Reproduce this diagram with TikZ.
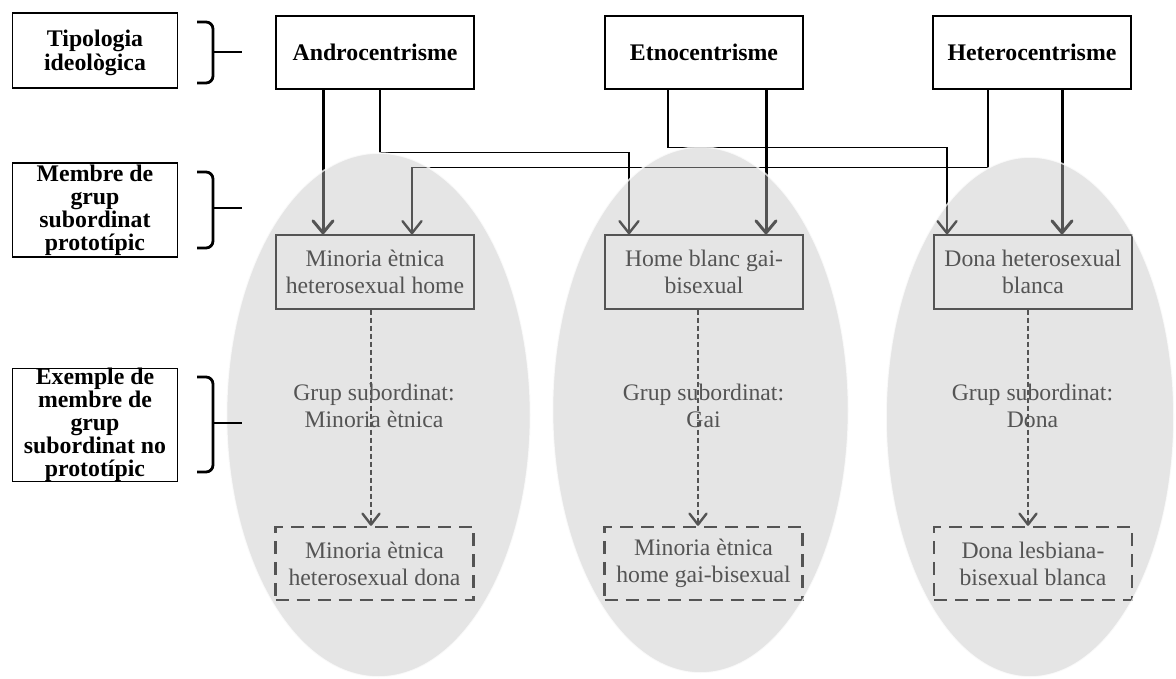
\documentclass[tikz,border=0pt]{standalone}
\usepackage{fontspec}
\setmainfont{Liberation Serif}
\usetikzlibrary{arrows.meta}
\tikzset{
  labelbox/.style={draw=black, line width=1.3pt, minimum width=165pt, inner sep=0pt, align=center,
    font=\fontsize{23.8}{23}\selectfont\bfseries},
  ideobox/.style={draw=black, line width=1.3pt, minimum width=198pt, minimum height=73pt, inner sep=0pt,
    font=\fontsize{23.8}{27}\selectfont\bfseries},
  protobox/.style={draw=black, line width=1.3pt, minimum width=198pt, minimum height=74pt, inner sep=0pt,
    align=center, font=\fontsize{23.7}{27}\selectfont},
  exbox/.style={draw=black, line width=2.4pt, dash pattern=on 13pt off 8pt, minimum width=198pt,
    minimum height=73pt, inner sep=0pt, align=center, font=\fontsize{23.7}{27}\selectfont},
  grouplabel/.style={align=center, inner sep=0pt, font=\fontsize{23.7}{27}\selectfont},
  strongarrow/.style={line width=3pt, -{Straight Barb[length=12pt,width=20pt,round]}},
  weakarrow/.style={line width=1.5pt, -{Straight Barb[length=12pt,width=19pt,round,line width=2.4pt]}},
  dasharrow/.style={line width=1.4pt, dash pattern=on 5pt off 3pt, -{Straight Barb[length=11pt,width=17pt,round,line width=2.4pt]}},
  bracepath/.style={line width=2.8pt, rounded corners=7pt},
  veil/.style={fill=black!23, fill opacity=0.43, draw=white, draw opacity=0.75, line width=1.6pt},
}
\begin{document}
\begin{tikzpicture}[x=1pt, y=-1pt]
\useasboundingbox (0,0) rectangle (1176,678);
\fill[white] (0,0) rectangle (1176,678);

% left labels
\node[labelbox, minimum height=75pt] (L1) at (95,50.5)
  {\raisebox{-3pt}[\height][\depth]{\begin{tabular}{@{}c@{}}Tipologia\\ideològica\end{tabular}}};
\node[labelbox, minimum height=94pt] (L2) at (95,210) {Membre de\\grup\\subordinat\\prototípic};
\node[labelbox, minimum height=113pt] (L3) at (95,425) {Exemple de\\membre de\\grup\\subordinat no\\prototípic};

% ideological typology
\node[ideobox] (A) at (375,52.5) {Androcentrisme};
\node[ideobox] (E) at (704,52.5) {Etnocentrisme};
\node[ideobox] (H) at (1032,52.5) {Heterocentrisme};

% prototypical members
\node[protobox] (P1) at (375,272) {Minoria ètnica\\heterosexual home};
\node[protobox] (P2) at (704,272) {Home blanc gai-\\bisexual};
\node[protobox] (P3) at (1033,272) {Dona heterosexual\\blanca};

% group labels
\node[grouplabel] (G1) at (374,406) {Grup subordinat:\\Minoria ètnica};
\node[grouplabel] (G2) at (703.5,406) {Grup subordinat:\\Gai};
\node[grouplabel] (G3) at (1032.5,406) {Grup subordinat:\\Dona};

% non-prototypical examples
\node[exbox] (X1) at (374.5,563.5) {Minoria ètnica\\heterosexual dona};
\node[exbox] (X2) at (703.5,563.5) {Minoria ètnica\\home gai-bisexual};
\node[exbox] (X3) at (1033,563.5) {Dona lesbiana-\\bisexual blanca};

% connectors from ideologies
\draw[strongarrow] ([xshift=-52pt]A.south) -- ([xshift=-52pt]A.south |- P1.north);
\draw[weakarrow] ([xshift=5pt]A.south) -- ++(0,63) -| ([xshift=-75pt]P2.north);
\draw[weakarrow] ([xshift=-36pt]E.south) -- ++(0,58) -| ([xshift=-86pt]P3.north);
\draw[strongarrow] ([xshift=62pt]E.south) -- ([xshift=62pt]E.south |- P2.north);
\draw[weakarrow] ([xshift=-44pt]H.south) -- ++(0,78) -| ([xshift=37pt]P1.north);
\draw[strongarrow] ([xshift=30pt]H.south) -- ([xshift=30pt]H.south |- P3.north);

% dashed connectors
\draw[dasharrow] ([xshift=-4pt]P1.south) -- ([xshift=-4pt]P1.south |- X1.north);
\draw[dasharrow] ([xshift=-6pt]P2.south) -- ([xshift=-6pt]P2.south |- X2.north);
\draw[dasharrow] ([xshift=-5pt]P3.south) -- ([xshift=-5pt]P3.south |- X3.north);

% translucent ellipses
\path[veil] (378.5,415) ellipse [x radius=152pt, y radius=262pt];
\path[veil] (700.5,410) ellipse [x radius=148pt, y radius=263pt];
\path[veil] (1030,417) ellipse [x radius=144pt, y radius=260pt];

% braces
\draw[bracepath] (197,22) -- (213,22) -- (213,83) -- (197,83);
\draw[line width=2.8pt] (213,52) -- (242,52);
\draw[bracepath] (197,172) -- (213,172) -- (213,248) -- (197,248);
\draw[line width=2.8pt] (213,208) -- (242,208);
\draw[bracepath] (197,377) -- (213,377) -- (213,472) -- (197,472);
\draw[line width=2.8pt] (213,423) -- (242,423);
\end{tikzpicture}
\end{document}
